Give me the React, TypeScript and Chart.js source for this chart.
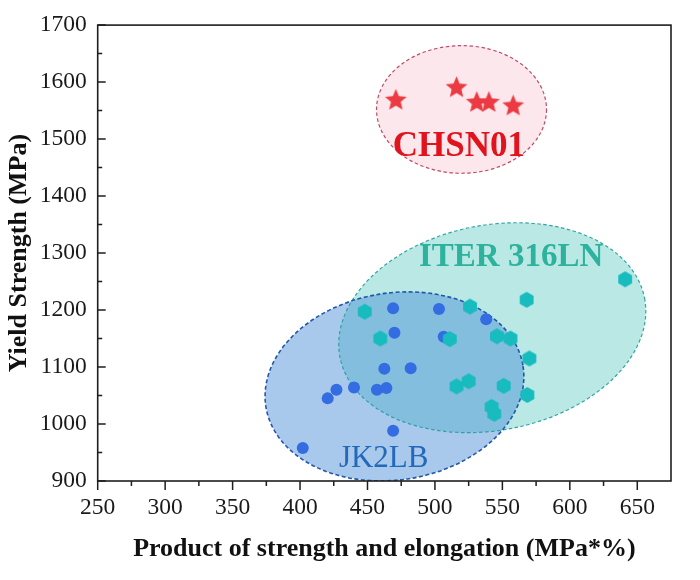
import { useEffect, useRef } from "react";
import { Chart, registerables } from "chart.js";

Chart.register(...registerables);

// ---- axis ticks ----
const X_TICKS = [250, 300, 350, 400, 450, 500, 550, 600, 650];
const X_MINOR = [275, 325, 375, 425, 475, 525, 575, 625];
const Y_TICKS = [900, 1000, 1100, 1200, 1300, 1400, 1500, 1600, 1700];
const Y_MINOR = [950, 1050, 1150, 1250, 1350, 1450, 1550, 1650];

// ---- series ----
const CHSN01_X = [471, 516, 531, 540, 558];
const CHSN01_Y = [1568, 1590, 1564, 1564, 1558];

const JK2LB_X = [469, 503, 470, 462.5, 482, 427, 420.5, 440, 457, 464, 469, 402, 506.5, 538];
const JK2LB_Y = [1203, 1202, 1160, 1097, 1098, 1060, 1045, 1064, 1060, 1063, 988, 958, 1153, 1184];

const ITER_X = [448, 526, 568, 459.5, 511, 546, 556, 516, 525, 551, 542, 544, 641, 570, 568.5];
const ITER_Y = [1197, 1206, 1218, 1150, 1149, 1154, 1150, 1066, 1075, 1067, 1030, 1018, 1254, 1115, 1051];

// ---- group regions (centre, semi-axes in data units, tilt in degrees) ----
const REGION_NAMES = ["ITER 316LN", "JK2LB", "CHSN01"];
const REGION_CX = [542.5, 470, 519.7];
const REGION_CY = [1169, 1066, 1552];
const REGION_RX = [115, 96.5, 63];
const REGION_RY = [180, 164, 112];
const REGION_TILT = [-11, -9, 0];
const REGION_FILL = ["rgba(110,210,200,0.48)", "rgba(70,140,215,0.47)", "rgba(245,180,195,0.32)"];
const REGION_STROKE = ["rgba(40,160,160,0.95)", "rgba(25,80,165,0.95)", "rgba(185,55,90,0.9)"];

// ---- region labels (anchor in data units) ----
const LABEL_X = [556.5, 462, 517.7];
const LABEL_Y = [1277, 925, 1470];
const LABEL_COLOR = ["rgb(45,178,158)", "rgb(35,105,185)", "rgb(225,20,30)"];
const LABEL_WEIGHT = ["bold", "normal", "bold"];
const LABEL_SIZE = [33, 31, 35];

const SERIF = "'Liberation Serif', 'Times New Roman', serif";

function makeStar(r: number, color: string) {
  const s = Math.ceil(r * 2 + 2);
  const c = document.createElement("canvas");
  c.width = s;
  c.height = s;
  const g = c.getContext("2d")!;
  g.fillStyle = color;
  g.beginPath();
  for (let i = 0; i < 10; i++) {
    const a = -Math.PI / 2 + (i * Math.PI) / 5;
    const rr = i % 2 === 0 ? r : r * 0.45;
    g.lineTo(s / 2 + rr * Math.cos(a), s / 2 + rr * Math.sin(a));
  }
  g.closePath();
  g.fill();
  return c;
}

function makeHex(r: number, color: string) {
  const s = Math.ceil(r * 2 + 2);
  const c = document.createElement("canvas");
  c.width = s;
  c.height = s;
  const g = c.getContext("2d")!;
  g.fillStyle = color;
  g.beginPath();
  for (let i = 0; i < 6; i++) {
    const a = -Math.PI / 2 + (i * Math.PI) / 3;
    g.lineTo(s / 2 + r * Math.cos(a), s / 2 + r * Math.sin(a));
  }
  g.closePath();
  g.fill();
  return c;
}

const regionPlugin = {
  id: "regions",
  beforeDatasetsDraw(chart: any) {
    const { ctx, chartArea, scales } = chart;
    const xs = scales.x;
    const ys = scales.y;
    ctx.save();
    ctx.beginPath();
    ctx.rect(chartArea.left, chartArea.top, chartArea.right - chartArea.left, chartArea.bottom - chartArea.top);
    ctx.clip();
    const shapes = REGION_NAMES.map((_, i) => {
      const cx = xs.getPixelForValue(REGION_CX[i]);
      const cy = ys.getPixelForValue(REGION_CY[i]);
      const rx = Math.abs(xs.getPixelForValue(REGION_CX[i] + REGION_RX[i]) - cx);
      const ry = Math.abs(ys.getPixelForValue(REGION_CY[i] + REGION_RY[i]) - cy);
      return { cx, cy, rx, ry, rot: (REGION_TILT[i] * Math.PI) / 180 };
    });
    shapes.forEach((s, i) => {
      ctx.beginPath();
      ctx.ellipse(s.cx, s.cy, s.rx, s.ry, s.rot, 0, Math.PI * 2);
      ctx.fillStyle = REGION_FILL[i];
      ctx.fill();
    });
    shapes.forEach((s, i) => {
      ctx.beginPath();
      ctx.ellipse(s.cx, s.cy, s.rx, s.ry, s.rot, 0, Math.PI * 2);
      ctx.strokeStyle = REGION_STROKE[i];
      ctx.lineWidth = i === 1 ? 1.6 : 1.2;
      ctx.setLineDash(i === 1 ? [4, 2.5] : [3.5, 2.5]);
      ctx.stroke();
    });
    ctx.restore();
  },
  afterDatasetsDraw(chart: any) {
    const { ctx, scales } = chart;
    ctx.save();
    ctx.textAlign = "center";
    ctx.textBaseline = "alphabetic";
    REGION_NAMES.forEach((name, i) => {
      ctx.font = `${LABEL_WEIGHT[i]} ${LABEL_SIZE[i]}px ${SERIF}`;
      ctx.fillStyle = LABEL_COLOR[i];
      ctx.fillText(name, scales.x.getPixelForValue(LABEL_X[i]), scales.y.getPixelForValue(LABEL_Y[i]));
    });
    ctx.restore();
  },
  afterDraw(chart: any) {
    const { ctx, chartArea, scales } = chart;
    const { left, right, top, bottom } = chartArea;
    ctx.save();
    ctx.strokeStyle = "#1e1e1e";
    ctx.lineWidth = 1.6;
    ctx.setLineDash([]);
    ctx.strokeRect(left, top, right - left, bottom - top);
    ctx.beginPath();
    X_TICKS.forEach((v) => {
      const px = scales.x.getPixelForValue(v);
      ctx.moveTo(px, bottom);
      ctx.lineTo(px, bottom + 9);
    });
    X_MINOR.forEach((v) => {
      const px = scales.x.getPixelForValue(v);
      ctx.moveTo(px, bottom);
      ctx.lineTo(px, bottom + 5);
    });
    Y_TICKS.forEach((v) => {
      const py = scales.y.getPixelForValue(v);
      ctx.moveTo(left, py);
      ctx.lineTo(left + 8, py);
    });
    Y_MINOR.forEach((v) => {
      const py = scales.y.getPixelForValue(v);
      ctx.moveTo(left, py);
      ctx.lineTo(left + 4.5, py);
    });
    ctx.lineWidth = 1.5;
    ctx.stroke();
    ctx.restore();
  },
};

export default function App() {
  const ref = useRef<HTMLCanvasElement | null>(null);

  useEffect(() => {
    if (!ref.current) return;
    const star = makeStar(11.4, "rgb(236,58,66)");
    const hex = makeHex(8, "rgb(24,188,190)");
    const chart = new Chart(ref.current, {
      type: "scatter",
      data: {
        datasets: [
          {
            label: "CHSN01",
            data: CHSN01_X.map((x, i) => ({ x, y: CHSN01_Y[i] })),
            pointStyle: star as any,
            pointRadius: 11,
            order: 0,
          },
          {
            label: "ITER 316LN",
            data: ITER_X.map((x, i) => ({ x, y: ITER_Y[i] })),
            pointStyle: hex as any,
            pointRadius: 8,
            order: 1,
          },
          {
            label: "JK2LB",
            data: JK2LB_X.map((x, i) => ({ x, y: JK2LB_Y[i] })),
            pointStyle: "circle",
            pointRadius: 6,
            borderWidth: 0,
            backgroundColor: "rgb(52,108,226)",
            borderColor: "rgb(52,108,226)",
            order: 2,
          },
        ],
      },
      options: {
        animation: false,
        responsive: false,
        devicePixelRatio: 1,
        layout: { padding: { top: 19, right: 29, left: 0, bottom: 0 } },
        plugins: { legend: { display: false }, tooltip: { enabled: false } },
        scales: {
          x: {
            type: "linear",
            min: 250,
            max: 675,
            afterBuildTicks: (s: any) => {
              s.ticks = X_TICKS.map((value) => ({ value }));
            },
            afterFit: (s: any) => {
              s.height = 99;
            },
            grid: { display: false, drawTicks: false },
            border: { display: false },
            ticks: {
              padding: 13,
              color: "#1a1a1a",
              font: { family: SERIF, size: 23.5 },
              maxRotation: 0,
              callback: (v: any) => String(v),
            },
            title: {
              display: true,
              text: "Product of strength and elongation (MPa*%)",
              color: "#111",
              font: { family: SERIF, size: 26, weight: "bold" },
              padding: { top: 0, bottom: 15 },
            },
          },
          y: {
            type: "linear",
            min: 900,
            max: 1700,
            afterBuildTicks: (s: any) => {
              s.ticks = Y_TICKS.map((value) => ({ value }));
            },
            afterFit: (s: any) => {
              s.width = 97.7;
            },
            grid: { display: false, drawTicks: false },
            border: { display: false },
            ticks: {
              padding: 11,
              color: "#1a1a1a",
              font: { family: SERIF, size: 23.5 },
              callback: (v: any) => String(v),
            },
            title: {
              display: true,
              text: "Yield Strength (MPa)",
              color: "#111",
              font: { family: SERIF, size: 26, weight: "bold" },
              padding: { top: 4, bottom: 0 },
            },
          },
        },
      },
      plugins: [regionPlugin],
    });
    return () => chart.destroy();
  }, []);

  return (
    <div style={{ position: "absolute", left: 0, top: 0, width: 700, height: 580, background: "#fff" }}>
      <canvas ref={ref} width={700} height={580} style={{ display: "block" }} />
    </div>
  );
}
